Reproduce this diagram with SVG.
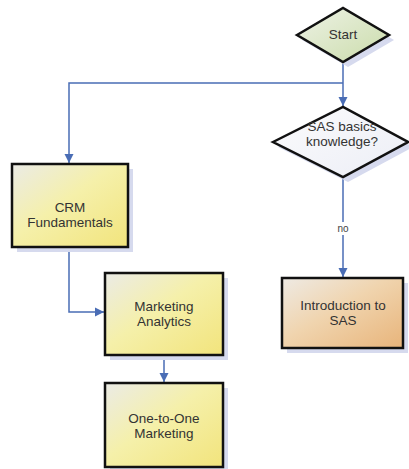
<svg xmlns="http://www.w3.org/2000/svg" width="409" height="469" viewBox="0 0 409 469">
<defs>
<linearGradient id="gY" x1="0" y1="0" x2="1" y2="1">
<stop offset="0" stop-color="#ebebe6"/>
<stop offset="0.45" stop-color="#f5f0aa"/>
<stop offset="1" stop-color="#f2e47c"/>
</linearGradient>
<linearGradient id="gO" x1="0" y1="0" x2="1" y2="1">
<stop offset="0" stop-color="#eeeae4"/>
<stop offset="0.45" stop-color="#f0d4ae"/>
<stop offset="1" stop-color="#e8b47a"/>
</linearGradient>
<linearGradient id="gG" x1="0" y1="0" x2="1" y2="1">
<stop offset="0" stop-color="#eef2e6"/>
<stop offset="1" stop-color="#cadcaa"/>
</linearGradient>
<linearGradient id="gW" x1="0" y1="0" x2="1" y2="1">
<stop offset="0" stop-color="#fbfbfc"/>
<stop offset="1" stop-color="#eceef6"/>
</linearGradient>
<marker id="arr" markerWidth="10" markerHeight="10" refX="9" refY="5" orient="auto" markerUnits="userSpaceOnUse">
<path d="M0,0.5 L9,5 L0,9.5 Z" fill="#4a6db5"/>
</marker>
</defs>
<style>
.sh{fill:#d6daee;}
.box{stroke:#111;stroke-width:2.5;}
.t{font-family:"Liberation Sans",Arial,sans-serif;font-size:13.5px;fill:#333;text-anchor:middle;}
.c{fill:none;stroke:#4a6db5;stroke-width:1.5;}
.lbl{font-family:"Liberation Sans",Arial,sans-serif;font-size:10px;fill:#444;text-anchor:middle;}
</style>
<rect width="409" height="469" fill="#fff"/>
<g id="connectors">
<path class="c" d="M343,62 V106" marker-end="url(#arr)"/>
<path class="c" d="M343,83 H69 V163" marker-end="url(#arr)"/>
<path class="c" d="M343,177 V277" marker-end="url(#arr)"/>
<rect x="334" y="222" width="18" height="13" fill="#fff"/>
<text class="lbl" x="343" y="232">no</text>
<path class="c" d="M69,247 V312 H104" marker-end="url(#arr)"/>
<path class="c" d="M164,355 V382" marker-end="url(#arr)"/>
</g>
<g id="start">
<polygon class="sh" points="302,40 348,13 394,40 348,67"/>
<polygon class="box" fill="url(#gG)" points="297,35 343,8 389,35 343,62"/>
<text class="t" x="343" y="39">Start</text>
</g>
<g id="sas-basics">
<polygon class="sh" points="278,147 348,112 413,147 348,182"/>
<polygon class="box" fill="url(#gW)" points="273,142 343,107 408,142 343,177"/>
<text class="t" x="342" y="131">SAS basics</text>
<text class="t" x="342" y="146">knowledge?</text>
</g>
<g id="crm">
<rect class="sh" x="17" y="169" width="116" height="83"/>
<rect class="box" fill="url(#gY)" x="12" y="164" width="116" height="83"/>
<text class="t" x="70" y="212">CRM</text>
<text class="t" x="70" y="227">Fundamentals</text>
</g>
<g id="marketing-analytics">
<rect class="sh" x="110" y="278" width="118" height="82"/>
<rect class="box" fill="url(#gY)" x="105" y="273" width="118" height="82"/>
<text class="t" x="164" y="311">Marketing</text>
<text class="t" x="164" y="326">Analytics</text>
</g>
<g id="one-to-one">
<rect class="sh" x="110" y="388" width="118" height="84"/>
<rect class="box" fill="url(#gY)" x="105" y="383" width="118" height="84"/>
<text class="t" x="164" y="423">One-to-One</text>
<text class="t" x="164" y="438">Marketing</text>
</g>
<g id="intro-sas">
<rect class="sh" x="287" y="283" width="121" height="70"/>
<rect class="box" fill="url(#gO)" x="282" y="278" width="121" height="70"/>
<text class="t" x="343" y="310">Introduction to</text>
<text class="t" x="343" y="325">SAS</text>
</g>
</svg>
